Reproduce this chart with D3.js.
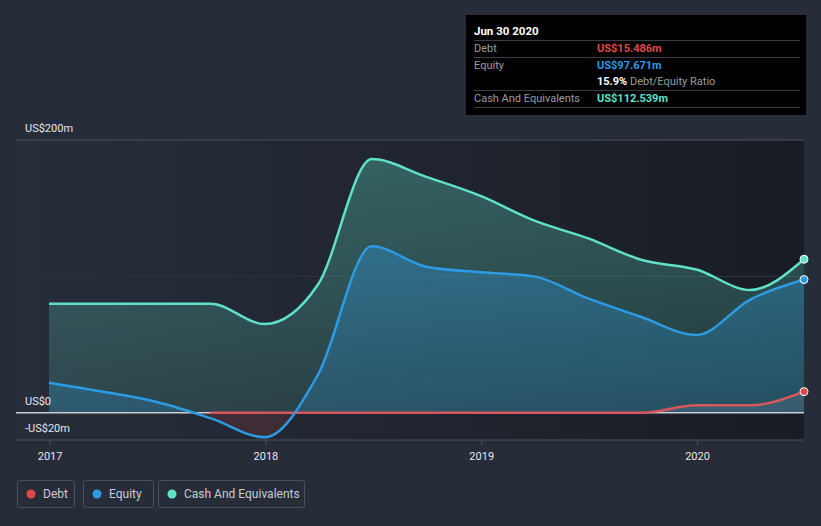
<!DOCTYPE html>
<html><head><meta charset="utf-8">
<script src="https://cdn.jsdelivr.net/npm/d3@7"></script>
<style>
html,body{margin:0;padding:0;background:#262c38;}
svg{display:block;font-family:Roboto, "Noto Sans", sans-serif;}
</style></head>
<body><svg id="chart" width="821" height="526"></svg>
<script>
const dates = ["2016-12-31","2017-03-31","2017-06-30","2017-09-30","2017-12-31","2018-03-31","2018-06-30","2018-09-30","2018-12-31","2019-03-31","2019-06-30","2019-09-30","2019-12-31","2020-03-31","2020-06-30"];
const cashValues = [80,80,80,80,65,94,186,173,159,141,128,112,105,90,112.539];
const equityValues = [22,15.5,8,-4,-18,28,122,107,103,100,84,70,57,83,97.671];
const debtDates = ["2017-09-30","2017-12-31","2018-03-31","2018-06-30","2018-09-30","2018-12-31","2019-03-31","2019-06-30","2019-09-30","2019-12-31","2020-03-31","2020-06-30"];
const debtValues = [0,0,0,0,0,0,0,0,0,5.5,5.5,15.486];
const yTickValues = [200,0,-20];
const yTickLabels = ["US$200m","US$0","-US$20m"];
const xTickLabels = ["2017","2018","2019","2020"];
const legendItems = ["Debt","Equity","Cash And Equivalents"];
const tooltipTitle = "Jun 30 2020";
const tooltipRows = [
  {label:"Debt", value:"US$15.486m", color:"#e04848"},
  {label:"Equity", value:"US$97.671m", color:"#2d9be3"},
  {label:"", value:"15.9%", extra:" Debt/Equity Ratio", color:"#ffffff"},
  {label:"Cash And Equivalents", value:"US$112.539m", color:"#5fe0c8"}
];

(function(){
const parse = d3.timeParse("%Y-%m-%d");
const cash = dates.map((d,i)=>({date:parse(d), v:cashValues[i]}));
const equity = dates.map((d,i)=>({date:parse(d), v:equityValues[i]}));
const debt = debtDates.map((d,i)=>({date:parse(d), v:debtValues[i]}));

const svg = d3.select("#chart");
const pL = 16, pR = 804, pT = 140, pB = 440;
const x = d3.scaleTime().domain([parse("2016-12-31"), parse("2020-06-30")]).range([49, 804]);
const y = d3.scaleLinear().domain([-20, 200]).range([pB, pT]);

const defs = svg.append("defs");
const bg = defs.append("linearGradient").attr("id","bg").attr("x1","0").attr("x2","1").attr("y1","0").attr("y2","0");
bg.append("stop").attr("offset","0").attr("stop-color","#272e3a");
bg.append("stop").attr("offset","1").attr("stop-color","#191c24");
const gc = defs.append("linearGradient").attr("id","gc").attr("x1","0").attr("x2","0").attr("y1","0").attr("y2","1");
gc.append("stop").attr("offset","0").attr("stop-color","#5fe0c8").attr("stop-opacity",0.32);
gc.append("stop").attr("offset","1").attr("stop-color","#5fe0c8").attr("stop-opacity",0.14);
const ge = defs.append("linearGradient").attr("id","ge").attr("x1","0").attr("x2","0").attr("y1","0").attr("y2","1");
ge.append("stop").attr("offset","0").attr("stop-color","#2d9be3").attr("stop-opacity",0.35);
ge.append("stop").attr("offset","1").attr("stop-color","#2d9be3").attr("stop-opacity",0.2);
defs.append("clipPath").attr("id","abv").append("rect").attr("x",0).attr("y",0).attr("width",821).attr("height",y(0));
defs.append("clipPath").attr("id","blw").append("rect").attr("x",0).attr("y",y(0)).attr("width",821).attr("height",200);

svg.append("rect").attr("x",pL).attr("y",pT).attr("width",pR-pL).attr("height",pB-pT).attr("fill","url(#bg)");

svg.append("line").attr("x1",pL).attr("x2",pR).attr("y1",y(200)).attr("y2",y(200)).attr("stroke","#4a505b").attr("stroke-width",1);
svg.append("line").attr("x1",pL).attr("x2",pR).attr("y1",y(100)).attr("y2",y(100)).attr("stroke","#30363f").attr("stroke-width",1);
svg.append("line").attr("x1",pL).attr("x2",pR).attr("y1",y(-20)).attr("y2",y(-20)).attr("stroke","#4a505b").attr("stroke-width",1);

const curve = d3.curveMonotoneX;
const area = d3.area().x(d=>x(d.date)).y0(y(0)).y1(d=>y(d.v)).curve(curve);
const line = d3.line().x(d=>x(d.date)).y(d=>y(d.v)).curve(curve);

svg.append("path").datum(cash).attr("d",area).attr("fill","url(#gc)");
svg.append("path").datum(equity).attr("d",area).attr("fill","url(#ge)").attr("clip-path","url(#abv)");
svg.append("path").datum(equity).attr("d",area).attr("fill","#e04848").attr("fill-opacity",0.15).attr("clip-path","url(#blw)");
svg.append("path").datum(debt).attr("d",area).attr("fill","#c8c8d0").attr("fill-opacity",0.12);

svg.append("line").attr("x1",pL).attr("x2",pR).attr("y1",y(0)).attr("y2",y(0)).attr("stroke","#c9ccd1").attr("stroke-width",1.5);

svg.append("path").datum(debt).attr("d",line).attr("fill","none").attr("stroke","#d9575c").attr("stroke-width",2.5);
svg.append("path").datum(cash).attr("d",line).attr("fill","none").attr("stroke","#5fe0c8").attr("stroke-width",2.5);
svg.append("path").datum(equity).attr("d",line).attr("fill","none").attr("stroke","#2d9be3").attr("stroke-width",2.5);

[[debt,"#e04848"],[equity,"#2d9be3"],[cash,"#5fe0c8"]].forEach(([s,c])=>{
  const d = s[s.length-1];
  svg.append("circle").attr("cx",x(d.date)).attr("cy",y(d.v)).attr("r",4).attr("fill",c).attr("stroke","#ffffff").attr("stroke-width",1);
});

yTickValues.forEach((v,i)=>{
  svg.append("text").attr("x",25).attr("y",y(v)-8).attr("fill","#e6e8eb").attr("font-size",11).text(yTickLabels[i]);
});

const xAxis = d3.axisBottom(x).tickValues(xTickLabels.map(t=>parse(t+"-01-01"))).tickSize(5).tickFormat((d,i)=>xTickLabels[i]);
const gx = svg.append("g").attr("transform",`translate(0,${pB})`).call(xAxis);
gx.select(".domain").remove();
gx.selectAll(".tick line").attr("stroke","#4a505b");
gx.selectAll(".tick text").attr("fill","#e6e8eb").attr("font-size",11).attr("dy","1.1em").attr("font-family","Roboto, sans-serif");

const legColors = ["#e04848","#2d9be3","#5fe0c8"];
const legX = [17,83,158], legW = [57,70,146];
legendItems.forEach((t,i)=>{
  const g = svg.append("g").attr("transform",`translate(${legX[i]},480)`);
  g.append("rect").attr("x",0.5).attr("y",0.5).attr("width",legW[i]).attr("height",27).attr("rx",2).attr("fill","none").attr("stroke","#4a505b");
  g.append("circle").attr("cx",14).attr("cy",14).attr("r",4.5).attr("fill",legColors[i]);
  g.append("text").attr("x",26).attr("y",18).attr("fill","#c8cbd0").attr("font-size",12).text(t);
});

const tt = svg.append("g").attr("transform","translate(466,15)");
tt.append("rect").attr("width",340).attr("height",100).attr("fill","#000000");
tt.append("text").attr("x",8).attr("y",20).attr("fill","#ffffff").attr("font-size",11.5).attr("font-weight","bold").text(tooltipTitle);
[25,42,75,92].forEach(yy=>tt.append("line").attr("x1",8).attr("x2",334).attr("y1",yy+0.5).attr("y2",yy+0.5).attr("stroke","#3a3d44"));
const rowY = [37,54,70,87];
tooltipRows.forEach((r,i)=>{
  if(r.label) tt.append("text").attr("x",8).attr("y",rowY[i]).attr("fill","#9a9da3").attr("font-size",11).text(r.label);
  const t = tt.append("text").attr("x",131).attr("y",rowY[i]).attr("font-size",11);
  t.append("tspan").attr("fill",r.color).attr("font-weight","bold").text(r.value);
  if(r.extra) t.append("tspan").attr("fill","#9a9da3").text(r.extra);
});
})();
</script></body></html>
